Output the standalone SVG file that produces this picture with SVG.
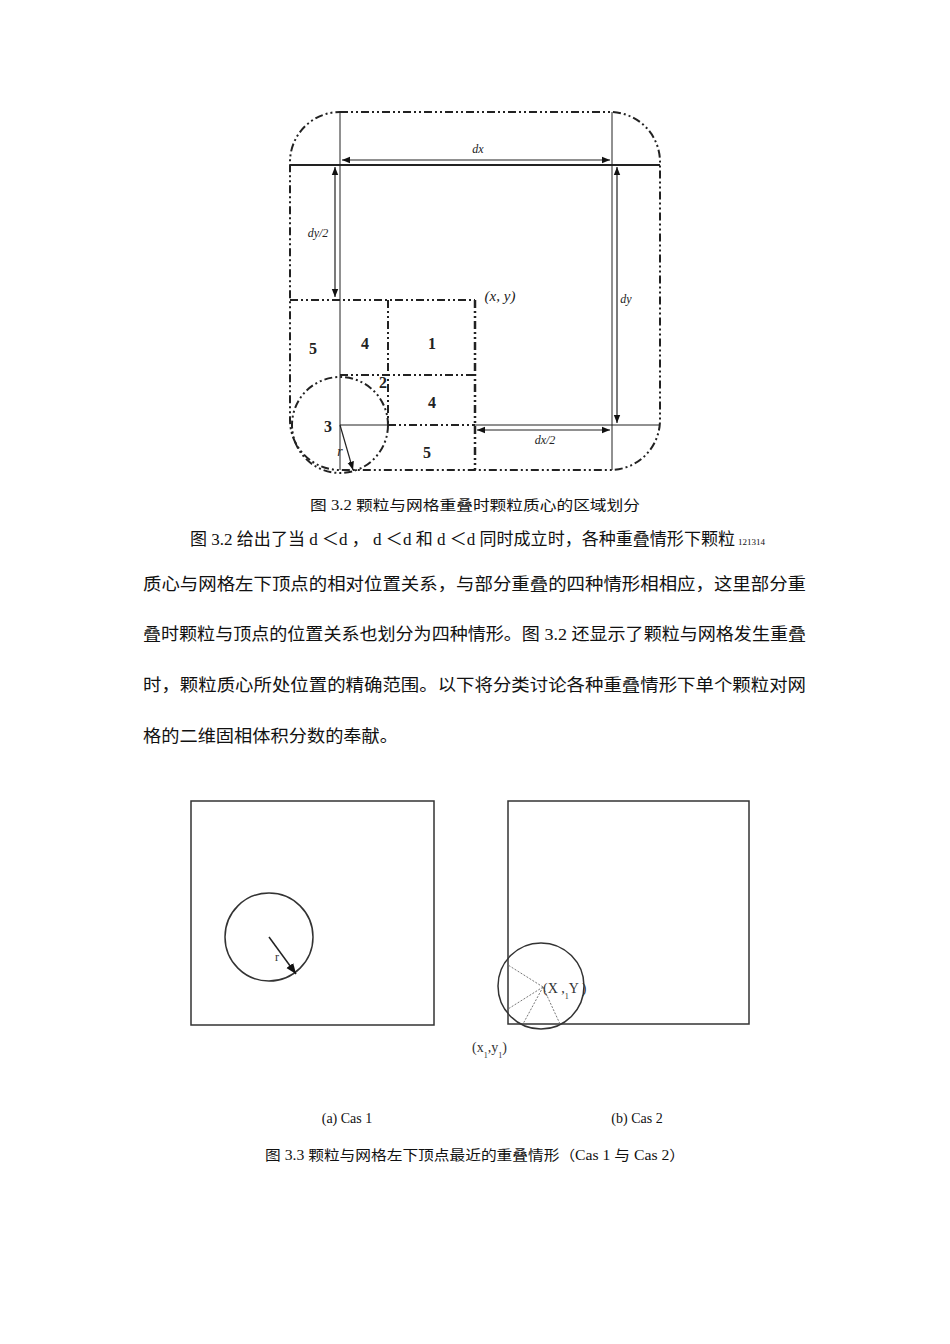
<svg xmlns="http://www.w3.org/2000/svg" width="950" height="1344" viewBox="0 0 950 1344">
<style>
.dd{fill:none;stroke:#222;stroke-width:2;stroke-dasharray:8 3 2 3 2 3}
.th{fill:none;stroke:#222;stroke-width:1}
.ar{stroke:#222;stroke-width:1.2;marker-start:url(#a);marker-end:url(#a)}
.lb{font-family:"Liberation Serif",serif;font-size:16px;fill:#222;font-weight:bold;text-anchor:middle}
.it{font-family:"Liberation Serif",serif;font-size:12px;font-style:italic;fill:#222;text-anchor:middle}
.cn{font-family:"Liberation Serif","Noto Sans CJK SC",serif;font-size:17px;fill:#111}
.cap{font-family:"Liberation Serif","Noto Sans CJK SC",serif;font-size:14px;fill:#111;text-anchor:middle}
.sm{font-family:"Liberation Serif",serif;font-size:14px;fill:#333}
</style>
<defs><marker id="a" viewBox="0 0 10 10" refX="10" refY="5" markerWidth="7" markerHeight="7" orient="auto-start-reverse"><path d="M0,1 L10,5 L0,9z" fill="#111"/></marker></defs>
<rect width="950" height="1344" fill="#fff"/>
<g id="fig32">
<rect class="dd" x="290" y="112" width="370" height="358" rx="50"/>
<line x1="290" y1="165" x2="660" y2="165" stroke="#222" stroke-width="2"/>
<line class="th" x1="340" y1="112" x2="340" y2="470"/>
<line class="th" x1="612" y1="112" x2="612" y2="470"/>
<line class="dd" x1="290" y1="300" x2="475" y2="300"/>
<line class="dd" x1="388" y1="300" x2="388" y2="425"/>
<line class="dd" x1="475" y1="300" x2="475" y2="470" style="stroke-width:2.5"/>
<line class="dd" x1="340" y1="375" x2="475" y2="375"/>
<line class="th" x1="340" y1="425" x2="388" y2="425"/>
<line class="dd" x1="388" y1="425" x2="475" y2="425"/>
<line class="th" x1="475" y1="425" x2="660" y2="425"/>
<circle class="dd" cx="340" cy="425" r="48"/>
<line class="ar" x1="342" y1="160" x2="610" y2="160"/>
<line class="ar" x1="335" y1="167" x2="335" y2="297"/>
<line class="ar" x1="617" y1="167" x2="617" y2="423"/>
<line class="ar" x1="477" y1="430" x2="610" y2="430"/>
<line x1="340" y1="425" x2="353" y2="470" stroke="#222" stroke-width="1.2" marker-end="url(#a)"/>
<text class="lb" x="313" y="354">5</text><text class="lb" x="365" y="349">4</text>
<text class="lb" x="432" y="349">1</text><text class="lb" x="383" y="388">2</text>
<text class="lb" x="432" y="408">4</text><text class="lb" x="328" y="432">3</text>
<text class="lb" x="427" y="458">5</text>
<text class="it" x="340" y="456" style="font-size:14px">r</text>
<text class="it" x="500" y="301" style="font-size:15px">(x, y)</text>
<text class="it" x="478" y="153">dx</text><text class="it" x="318" y="237">dy/2</text>
<text class="it" x="626" y="303">dy</text><text class="it" x="545" y="444">dx/2</text>
</g>
<text class="cap" x="475" y="510" textLength="330" lengthAdjust="spacingAndGlyphs">图 3.2 颗粒与网格重叠时颗粒质心的区域划分</text>
<g id="para">
<text class="cn" x="190" y="545" textLength="545" lengthAdjust="spacingAndGlyphs">图 3.2 给出了当 d ＜d ， d ＜d 和 d ＜d 同时成立时，各种重叠情形下颗粒</text>
<text x="738" y="545" font-family="Liberation Serif,serif" font-size="9" fill="#111">121314</text>
<text class="cn" x="143" y="590" textLength="663" lengthAdjust="spacingAndGlyphs">质心与网格左下顶点的相对位置关系，与部分重叠的四种情形相相应，这里部分重</text>
<text class="cn" x="143" y="640" textLength="663" lengthAdjust="spacingAndGlyphs">叠时颗粒与顶点的位置关系也划分为四种情形。图 3.2 还显示了颗粒与网格发生重叠</text>
<text class="cn" x="143" y="691" textLength="663" lengthAdjust="spacingAndGlyphs">时，颗粒质心所处位置的精确范围。以下将分类讨论各种重叠情形下单个颗粒对网</text>
<text class="cn" x="143" y="742" textLength="255" lengthAdjust="spacingAndGlyphs">格的二维固相体积分数的奉献。</text>
</g>
<g id="figa">
<rect x="191" y="801" width="243" height="224" fill="none" stroke="#333" stroke-width="1.5"/>
<circle cx="269" cy="937" r="44" fill="none" stroke="#333" stroke-width="1.5"/>
<line x1="269" y1="937" x2="296" y2="974" stroke="#222" stroke-width="1.5" marker-end="url(#a)"/>
<text x="275" y="961" font-family="Liberation Serif,serif" font-size="12" fill="#333">r</text>
</g>
<g id="figb">
<rect x="508" y="801" width="241" height="223" fill="none" stroke="#333" stroke-width="1.5"/>
<circle cx="541" cy="986" r="43" fill="none" stroke="#333" stroke-width="1.5"/>
<g stroke="#777" stroke-width="1" stroke-dasharray="2 1.5">
<line x1="543" y1="987" x2="508" y2="965"/><line x1="543" y1="987" x2="508" y2="1009"/>
<line x1="543" y1="987" x2="523" y2="1024"/><line x1="543" y1="987" x2="560" y2="1024"/>
</g>
<text class="sm" x="543" y="993">(X ,<tspan font-size="8" dy="6">1</tspan><tspan dy="-6">Y )</tspan></text>
<text class="sm" x="472" y="1052">(x<tspan font-size="8" dy="6">1</tspan><tspan dy="-6">,y</tspan><tspan font-size="8" dy="6">1</tspan><tspan dy="-6">)</tspan></text>
</g>
<text class="cap" x="347" y="1123">(a) Cas 1</text>
<text class="cap" x="637" y="1123">(b) Cas 2</text>
<text class="cap" x="475" y="1160" textLength="420" lengthAdjust="spacingAndGlyphs">图 3.3 颗粒与网格左下顶点最近的重叠情形（Cas 1 与 Cas 2）</text>
</svg>
